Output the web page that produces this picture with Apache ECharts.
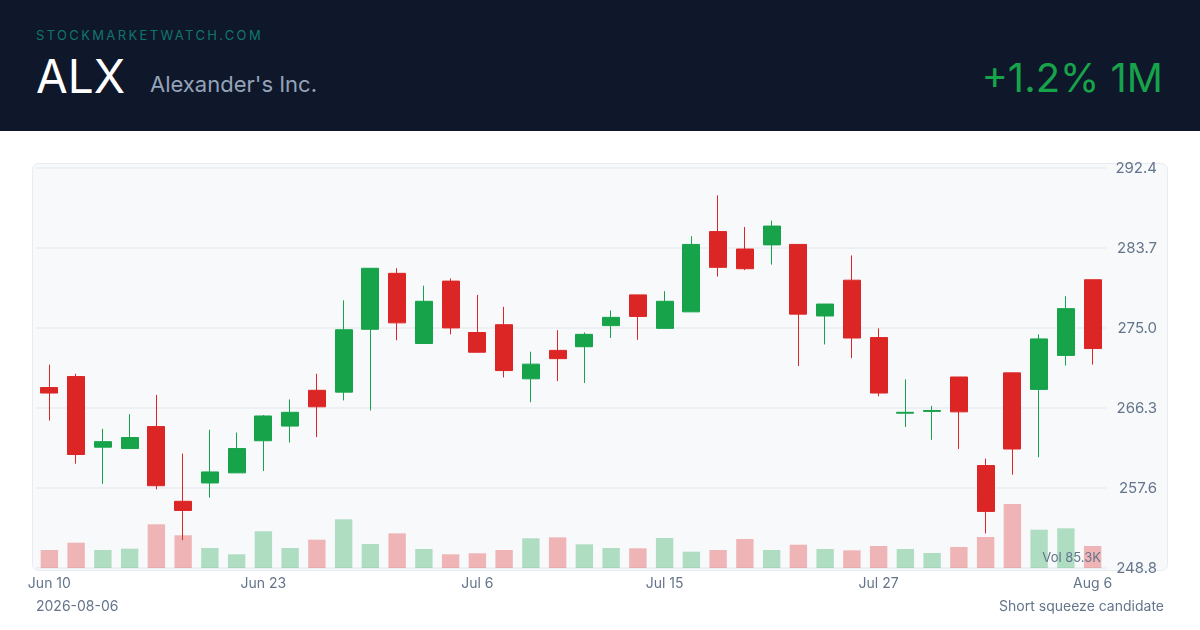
<!DOCTYPE html>
<html>
<head>
<meta charset="utf-8">
<script src="https://cdn.jsdelivr.net/npm/echarts@6/dist/echarts.min.js"></script>
<style>
html,body{margin:0;padding:0;background:#ffffff;}
#wrap{position:relative;width:1200px;height:630px;overflow:hidden;font-family:Inter,"Noto Sans",sans-serif;}
#chart{position:absolute;left:0;top:0;width:1200px;height:630px;}
#header{position:absolute;left:0;top:0;width:1200px;height:131px;background:#0f172a;z-index:2;}
#site{position:absolute;left:36px;top:26px;font-size:13px;letter-spacing:2.35px;color:#0f766e;line-height:18px;}
#ticker{position:absolute;left:36px;top:49px;font-size:46px;color:#ffffff;line-height:54px;}
#name{position:absolute;left:150px;top:70px;font-size:22px;color:#94a3b8;line-height:28px;}
#chg{position:absolute;right:37px;top:54px;font-size:40px;color:#16a34a;line-height:48px;}
</style>
</head>
<body>
<div id="wrap">
  <div id="chart"></div>
  <div id="header">
    <div id="site">STOCKMARKETWATCH.COM</div>
    <div id="ticker">ALX</div>
    <div id="name">Alexander's Inc.</div>
    <div id="chg">+1.2% 1M</div>
  </div>
</div>
<script>
// ---- data ----
const dates = [
  'Jun 10','Jun 11','Jun 12','Jun 15','Jun 16','Jun 17','Jun 18','Jun 22','Jun 23','Jun 24',
  'Jun 25','Jun 26','Jun 29','Jun 30','Jul 1','Jul 2','Jul 6','Jul 7','Jul 8','Jul 9',
  'Jul 10','Jul 13','Jul 14','Jul 15','Jul 16','Jul 17','Jul 20','Jul 21','Jul 22','Jul 23',
  'Jul 24','Jul 27','Jul 28','Jul 29','Jul 30','Jul 31','Aug 3','Aug 4','Aug 5','Aug 6'
];
const opens  = [268.5,269.7,262.0,261.85,264.25,256.1,258.1,259.2,262.7,264.3,
                268.2,268.0,274.85,280.95,273.3,280.1,274.5,275.35,269.45,272.55,
                272.95,275.25,278.6,274.95,276.75,285.5,283.6,284.05,284.1,276.3,
                280.2,273.95,265.7,265.9,269.65,260.0,270.1,268.3,272.0,280.25];
const closes = [267.9,261.2,262.6,263.05,257.8,255.1,259.3,261.85,265.4,265.8,
                266.4,274.8,281.5,275.55,277.9,275.0,272.35,270.35,271.05,271.65,
                274.3,276.15,276.25,277.9,284.1,281.6,281.45,286.1,276.5,277.6,
                273.9,267.9,265.8,266.0,265.85,255.0,261.8,273.8,277.1,272.75];
const lows   = [264.9,260.2,258.0,261.85,257.4,251.85,256.5,259.2,259.4,262.5,
                263.1,267.1,266.0,273.65,273.3,274.3,272.3,269.6,266.9,269.2,
                269.0,273.9,273.7,274.95,276.75,280.6,281.3,281.9,270.85,273.2,
                271.7,267.55,264.2,262.8,261.8,252.6,259.0,260.9,270.9,271.0];
const highs  = [271.0,270.0,264.0,265.6,267.7,261.3,263.9,263.6,265.5,267.2,
                270.0,278.0,281.5,281.5,279.6,280.4,278.6,277.3,272.4,274.75,
                274.5,276.9,278.6,279.0,285.0,289.45,286.0,286.7,284.1,277.6,
                282.9,274.95,269.4,266.5,269.65,260.75,270.1,274.3,278.45,280.25];
// volume in thousands of shares
const volumes = [69.8,98.1,69.8,74.8,169.4,126.8,77.5,53.1,142.3,77.5,
                 109.7,188.8,93.0,134.5,73.7,53.1,57.0,69.8,115.1,119.0,
                 91.9,77.5,76.4,116.3,63.2,69.8,112.4,69.8,90.3,73.7,
                 68.6,85.3,73.7,58.2,81.4,120.2,248.1,148.5,153.9,85.3];
const xLabelIdx = [0,8,16,23,31,39];
const yTickValues = [248.83,257.55,266.27,274.99,283.71,292.43];
const yTickLabels = ['248.8','257.6','266.3','275.0','283.7','292.4'];
const footerLeft = '2026-08-06';
const footerRight = 'Short squeeze candidate';

// ---- chart ----
const UP = '#16a34a', DOWN = '#dc2626';
const UPV = 'rgba(22,163,74,0.32)', DOWNV = 'rgba(220,38,38,0.32)';
const candleData = dates.map((d,i)=>[opens[i],closes[i],lows[i],highs[i]]);
const volData = volumes.map((v,i)=>({value:v,itemStyle:{color: closes[i]>=opens[i]?UPV:DOWNV}}));
const lastVol = volumes[volumes.length-1];

const chart = echarts.init(document.getElementById('chart'), null, {renderer:'canvas'});
const TXT = '#64748b';
chart.setOption({
  animation:false,
  backgroundColor:'#ffffff',
  textStyle:{fontFamily:'Inter, "Noto Sans", sans-serif'},
  graphic:[
    {type:'rect', z:-10, silent:true, shape:{x:32.5,y:163.5,width:1135,height:407,r:6},
     style:{fill:'#f8f9fb', stroke:'#e8ebf0', lineWidth:1}},
    {type:'text', z:100, x:1101, y:558, style:{text:'Vol '+lastVol.toFixed(1)+'K', fill:TXT, fontSize:13, fontFamily:'Inter', align:'right', verticalAlign:'middle'}},
    {type:'text', x:36, y:607, style:{text:footerLeft, fill:TXT, fontSize:14, fontFamily:'Inter', align:'left', verticalAlign:'middle'}},
    {type:'text', x:1164, y:607, style:{text:footerRight, fill:TXT, fontSize:14, fontFamily:'Inter', align:'right', verticalAlign:'middle'}}
  ],
  grid:{left:36, right:94, top:168, bottom:62, containLabel:false},
  xAxis:{
    type:'category', data:dates, boundaryGap:true,
    axisLine:{show:false}, axisTick:{show:false}, splitLine:{show:false},
    axisLabel:{color:TXT, fontSize:14, margin:9, interval:(i)=>xLabelIdx.indexOf(i)>=0}
  },
  yAxis:[
    {type:'value', position:'right', min:yTickValues[0], max:yTickValues[yTickValues.length-1], scale:true,
     axisLine:{show:false}, axisTick:{show:false, customValues:yTickValues},
     splitLine:{show:true, lineStyle:{color:'#e8ebf1', width:1.5}},
     axisLabel:{color:TXT, fontSize:15, align:'right', margin:51, customValues:yTickValues,
       formatter:(v)=>{let b=0,bd=1e9;yTickValues.forEach((t,k)=>{const d=Math.abs(t-v);if(d<bd){bd=d;b=k;}});return yTickLabels[b];}}},
    {type:'value', min:0, max:1551, show:false, splitLine:{show:false}}
  ],
  series:[
    {type:'bar', yAxisIndex:1, data:volData, barWidth:'65%', z:1},
    {type:'candlestick', yAxisIndex:0, data:candleData, barWidth:'65%', z:3,
     itemStyle:{color:UP, color0:DOWN, borderColor:UP, borderColor0:DOWN, borderWidth:1}}
  ]
});
</script>
</body>
</html>
